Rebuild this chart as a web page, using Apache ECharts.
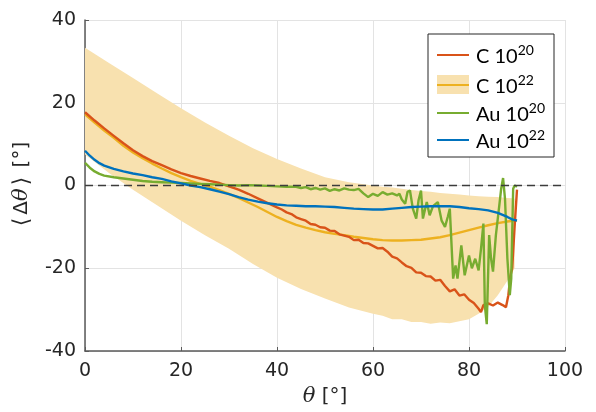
<!DOCTYPE html>
<html>
<head>
<meta charset="utf-8">
<script src="https://cdn.jsdelivr.net/npm/echarts@6/dist/echarts.min.js"></script>
<style>html,body{margin:0;padding:0;background:#fff}#c{width:596px;height:412px}</style>
</head>
<body>
<div id="c"></div>
<script>
// ---- data (θ in degrees, values in degrees) ----
var xTicks = [0, 20, 40, 60, 80, 100];
var yTicks = [-40, -20, 0, 20, 40];

// C 1e20 (red)
var c20Theta = [0,2,4,6,8,10,12,14,16,18,20,22,24,26,28,30,32,34,36,38,40,41,42,43,44,45,46,47,48,49,50,51,52,53,54,55,56,57,58,59,60,61,62,63,64,65,66,67,68,69,70,71,72,73,74,75,76,77,78,79,80,81,82,82.5,83,84,85,86,87,87.7,88.2,88.6,89,89.5,90];
var c20Val = [17.7,15.7,13.8,12.0,10.2,8.5,7.1,5.9,4.9,3.9,3.0,2.3,1.7,1.1,0.6,-0.2,-1.0,-2.0,-3.1,-4.2,-5.3,-5.8,-6.5,-6.9,-7.7,-8.1,-8.5,-9.3,-9.5,-10.1,-10.2,-10.9,-11.0,-11.8,-12.1,-12.4,-13.2,-13.1,-13.9,-14.0,-14.6,-15.2,-15.1,-16.0,-17.2,-17.6,-18.6,-19.5,-19.9,-21.0,-21.1,-21.9,-22.0,-23.0,-22.8,-24.3,-25.6,-25.1,-26.6,-26.3,-27.6,-28.4,-29.8,-30.6,-28.9,-28.5,-29.0,-28.3,-28.9,-29.4,-26.5,-22.0,-20.0,-10.0,-1.0];

// C 1e22 (mean, yellow) and spread band
var c22Theta = [0,2,4,6,8,10,12,14,16,18,20,22,24,26,28,30,32,34,36,38,40,42,44,46,48,50,52,54,56,58,60,62,64,66,68,70,72,74,76,78,80,82,84,86,88,90];
var c22Val = [17.2,15.2,13.3,11.5,9.6,8.0,6.6,5.3,4.1,3.0,2.0,1.1,0.4,-0.3,-1.1,-2.0,-3.0,-4.1,-5.2,-6.4,-7.6,-8.6,-9.5,-10.2,-10.8,-11.3,-11.7,-12.0,-12.4,-12.7,-13.0,-13.2,-13.3,-13.3,-13.2,-13.1,-12.8,-12.5,-12.0,-11.4,-10.8,-10.2,-9.6,-9.1,-8.7,-8.4];
var bandTheta = [0,5,10,15,20,25,30,35,40,45,50,55,60,62,64,66,68,70,72,74,76,78,80,82,84,86,88,89,89.5];
var bandUpper = [33.3,29.6,26.0,22.3,18.7,15.2,12.0,9.0,6.4,4.1,2.0,0.8,0.0,-0.3,-0.5,-0.8,-1.1,-1.3,-1.5,-1.8,-2.0,-2.2,-2.4,-2.6,-2.7,-2.8,-3.0,-3.1,-3.2];
var bandLower = [7.5,3.0,-1.0,-4.8,-8.5,-12.0,-15.3,-19.0,-22.3,-25.0,-27.3,-29.5,-31.0,-31.5,-32.3,-32.3,-33.0,-33.0,-33.4,-33.1,-33.3,-32.8,-32.3,-31.0,-29.3,-26.5,-23.0,-21.0,-20.0];

// Au 1e20 (green)
var au20Theta = [0,1,2,3,4,6,8,10,12,14,16,18,20,22,24,26,28,30,32,34,36,38,40,42,44,45,46,47,48,49,50,51,52,53,54,55,56,57,58,59,60,61,62,63,64,65,65.5,66,66.7,67.2,67.7,68.3,69,69.5,70,70.4,71.2,71.8,72.5,73.5,74.3,75,75.6,76,76.7,77.2,77.6,78.4,79.1,80,80.6,81.3,82,82.5,83,83.3,83.7,84.2,84.6,85,85.6,86.3,86.7,87.1,87.5,88,88.5,88.8,89.2,89.5,90];
var au20Val = [5.5,4.3,3.4,2.8,2.4,2.0,1.7,1.4,1.1,0.9,0.8,0.7,0.6,0.5,0.4,0.3,0.2,0.1,0.0,0.1,0.0,-0.1,-0.2,-0.3,-0.3,-0.6,-0.4,-0.9,-0.6,-1.0,-0.7,-1.3,-0.9,-1.2,-0.7,-1.0,-1.1,-0.8,-1.9,-2.8,-2.0,-2.5,-1.6,-2.2,-1.9,-2.4,-2.0,-3.4,-4.4,-1.5,-1.2,-5.6,-8.0,-3.5,-1.2,-8.0,-4.0,-7.2,-5.0,-4.0,-8.5,-10.0,-7.5,-5.6,-22.5,-19.3,-22.5,-14.5,-21.7,-16.9,-20.0,-17.7,-20.5,-15.3,-9.2,-29.0,-33.5,-12.0,-17.7,-20.8,-12.0,-4.9,-0.8,1.8,-3.2,-17.7,-26.5,-22.5,-0.8,0.0,-0.3];

// Au 1e22 (blue)
var au22Theta = [0,1,2,3,4,6,8,10,12,14,16,18,20,22,24,26,28,30,32,34,36,38,40,42,44,46,48,50,52,54,56,58,60,62,64,66,68,70,72,74,76,78,80,82,84,86,88,89,90];
var au22Val = [8.4,7.2,6.2,5.4,4.8,4.0,3.4,2.9,2.5,2.0,1.6,1.0,0.5,0.0,-0.4,-0.9,-1.5,-2.1,-2.8,-3.4,-3.9,-4.3,-4.6,-4.8,-4.9,-5.0,-5.0,-5.1,-5.2,-5.4,-5.6,-5.7,-5.8,-5.8,-5.6,-5.4,-5.2,-5.1,-5.0,-5.0,-5.0,-5.2,-5.5,-5.7,-6.0,-6.6,-7.6,-8.2,-8.5];

var legendLabels = [['C 10','20'],['C 10','22'],['Au 10','20'],['Au 10','22']];

// ---- colours ----
var RED = '#D95319', YEL = '#EDB120', GRN = '#77AC30', BLU = '#0072BD', BAND = '#F8E1AF';

function pairs(t, v){ return t.map(function(x,i){ return [x, v[i]]; }); }
function lineSeries(name, t, v, color){
  return { name: name, type: 'line', data: pairs(t, v), showSymbol: false, symbol: 'none',
    lineStyle: { color: color, width: 2.4 }, itemStyle: {color: color}, animation: false, silent: true, z: 3 };
}

var chart = echarts.init(document.getElementById('c'), null, {renderer: 'canvas'});
var axisText = { color: '#262626', fontFamily: 'DejaVu Sans', fontSize: 19 };
var titleRich = {
  i: { fontFamily: 'DejaVu Serif', fontStyle: 'italic', fontSize: 21, color: '#262626' },
  n: { fontFamily: 'DejaVu Sans', fontSize: 20, color: '#262626' },
  b: { fontFamily: 'DejaVu Sans', fontSize: 22, color: '#262626', padding: [0, 3, 0, 3] }
};

var bandData = bandTheta.map(function(x,i){ return [x, bandUpper[i], bandLower[i]]; });

var option = {
  animation: false,
  backgroundColor: '#fff',
  grid: { left: 85, right: 31, top: 20, bottom: 59, containLabel: false },
  xAxis: {
    type: 'value', min: 0, max: 100, interval: 20,
    name: '{i|θ}{n| [°]}', nameLocation: 'middle', nameGap: 35,
    nameTextStyle: { rich: titleRich },
    axisLine: { show: true, onZero: false, lineStyle: { color: '#5a5a5a', width: 1.5 } },
    axisTick: { show: true, inside: true, length: 4, lineStyle: { color: '#5a5a5a' } },
    axisLabel: Object.assign({ margin: 11 }, axisText),
    splitLine: { show: true, lineStyle: { color: '#e3e3e3', width: 1 } }
  },
  yAxis: {
    type: 'value', min: -40, max: 40, interval: 20,
    name: '{b|⟨}{n|Δ}{i|θ}{b|⟩}{n| [°]}', nameLocation: 'middle', nameGap: 52, nameRotate: 90,
    nameTextStyle: { rich: titleRich },
    axisLine: { show: true, onZero: false, lineStyle: { color: '#5a5a5a', width: 1.5 } },
    axisTick: { show: true, inside: true, length: 4, lineStyle: { color: '#5a5a5a' } },
    axisLabel: Object.assign({ margin: 9 }, axisText),
    splitLine: { show: true, lineStyle: { color: '#e3e3e3', width: 1 } }
  },
  series: [
    {
      name: 'C 10^22 band', type: 'custom', data: bandData, silent: true, z: 1,
      renderItem: function(params, api){
        if (params.dataIndex !== 0) return null;
        var pts = [];
        for (var i = 0; i < bandData.length; i++) pts.push(api.coord([bandData[i][0], bandData[i][1]]));
        for (var j = bandData.length - 1; j >= 0; j--) pts.push(api.coord([bandData[j][0], bandData[j][2]]));
        return { type: 'polygon', shape: { points: pts }, style: { fill: BAND } };
      },
      encode: { x: 0, y: 1 }
    },
    lineSeries('C 10^22', c22Theta, c22Val, YEL),
    lineSeries('C 10^20', c20Theta, c20Val, RED),
    lineSeries('Au 10^20', au20Theta, au20Val, GRN),
    lineSeries('Au 10^22', au22Theta, au22Val, BLU),
    {
      name: 'zero', type: 'line', data: [[0,0],[100,0]], symbol: 'none', silent: true, z: 4,
      lineStyle: { color: '#3c3c3c', width: 1.6, type: [8, 5] }
    }
  ],
  graphic: []
};
chart.setOption(option);

// legend drawn as graphics in pixel space
(function(){
  var colors = [RED, YEL, GRN, BLU];
  var boxX = 428, boxY = 34, boxW = 126, boxH = 123;
  var rows = [55, 85, 113, 140];
  var g = [{ type: 'rect', shape: { x: boxX, y: boxY, width: boxW, height: boxH }, style: { fill: '#fff', stroke: '#262626', lineWidth: 1 }, z: 10 }];
  rows.forEach(function(cy, i){
    if (i === 1) g.push({ type: 'rect', shape: { x: 437, y: cy - 10, width: 32, height: 19 }, style: { fill: BAND }, z: 11 });
    g.push({ type: 'line', shape: { x1: 437, y1: cy, x2: 469, y2: cy }, style: { stroke: colors[i], lineWidth: 2 }, z: 12 });
    g.push({ type: 'text', x: 476, y: cy, z: 12, style: {
      text: '{b|' + legendLabels[i][0] + '}{s|' + legendLabels[i][1] + '}',
      verticalAlign: 'middle', align: 'left',
      rich: { b: { fontFamily: 'Lato', fontSize: 20, fill: '#000', verticalAlign: 'bottom' },
              s: { fontFamily: 'Lato', fontSize: 14, fill: '#000', verticalAlign: 'top', padding: [0,0,10,0] } }
    }});
  });
  chart.setOption({ graphic: g });
})();
</script>
</body>
</html>
